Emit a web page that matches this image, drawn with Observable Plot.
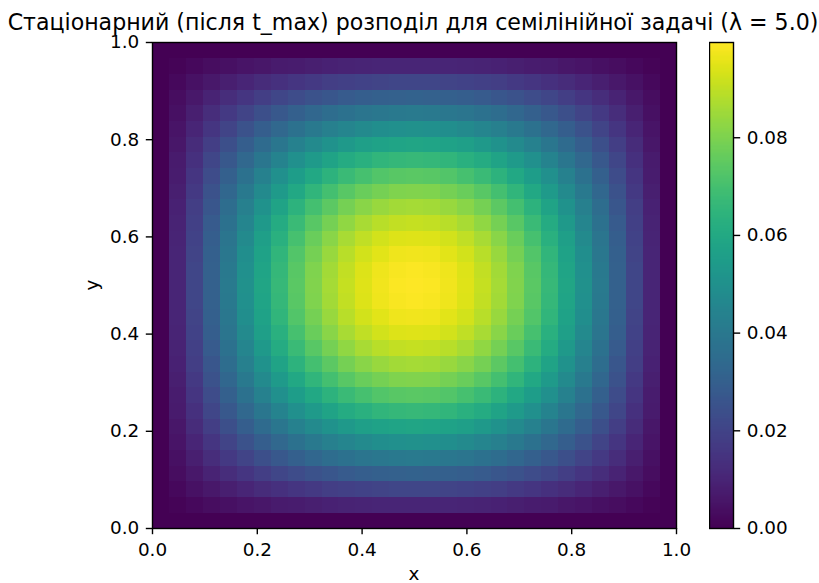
<!DOCTYPE html>
<html><head><meta charset="utf-8">
<script src="https://cdn.jsdelivr.net/npm/d3@7"></script>
<script src="https://cdn.jsdelivr.net/npm/@observablehq/plot@0.6"></script>
<style>body{margin:0;background:#fff} #chart{width:819px;height:583px}</style>
</head><body><div id="chart"></div>
<script>
// grid values in units of 1e-4 (31 x 31 cells)
const gridRows = [
[0,0,0,0,0,0,0,0,0,0,0,0,0,0,0,0,0,0,0,0,0,0,0,0,0,0,0,0,0,0,0],
[0,11,22,32,42,52,61,70,77,84,90,95,99,102,103,104,103,102,99,95,90,84,77,70,61,52,42,32,22,11,0],
[0,22,43,64,84,103,122,138,154,167,179,189,197,202,206,207,206,202,197,189,179,167,154,138,122,103,84,64,43,22,0],
[0,32,64,95,125,154,181,206,229,249,266,281,292,301,306,308,306,301,292,281,266,249,229,206,181,154,125,95,64,32,0],
[0,42,84,125,165,202,238,271,301,327,350,370,385,396,402,405,402,396,385,370,350,327,301,271,238,202,165,125,84,42,0],
[0,52,103,154,202,249,292,333,370,402,431,454,473,487,495,498,495,487,473,454,431,402,370,333,292,249,202,154,103,52,0],
[0,61,122,181,238,292,344,391,435,473,507,534,556,572,582,585,582,572,556,534,507,473,435,391,344,292,238,181,122,61,0],
[0,70,138,206,271,333,391,445,495,539,577,608,633,651,662,666,662,651,633,608,577,539,495,445,391,333,271,206,138,70,0],
[0,77,154,228,301,370,435,495,549,598,640,675,703,723,735,739,735,723,703,675,640,598,549,495,435,370,301,228,154,77,0],
[0,84,167,249,327,402,473,539,598,651,697,735,766,787,801,805,801,787,766,735,697,651,598,539,473,402,327,249,167,84,0],
[0,90,179,266,350,431,507,577,640,697,746,787,820,843,857,862,857,843,820,787,746,697,640,577,507,431,350,266,179,90,0],
[0,95,189,281,370,454,534,608,675,735,787,830,864,889,904,909,904,889,864,830,787,735,675,608,534,454,370,281,189,95,0],
[0,99,197,292,385,473,556,633,703,766,820,864,900,926,941,946,941,926,900,864,820,766,703,633,556,473,385,292,197,99,0],
[0,102,202,301,396,487,572,651,723,787,843,889,926,952,968,973,968,952,926,889,843,787,723,651,572,487,396,301,202,102,0],
[0,103,206,306,402,495,582,662,735,801,857,904,941,968,984,990,984,968,941,904,857,801,735,662,582,495,402,306,206,103,0],
[0,104,207,307,405,498,585,666,739,805,862,909,946,973,990,995,990,973,946,909,862,805,739,666,585,498,405,307,207,104,0],
[0,103,206,306,402,495,582,662,735,801,857,904,941,968,984,990,984,968,941,904,857,801,735,662,582,495,402,306,206,103,0],
[0,102,202,301,396,487,572,651,723,787,843,889,926,952,968,973,968,952,926,889,843,787,723,651,572,487,396,301,202,102,0],
[0,99,197,292,385,473,556,633,703,766,820,864,900,926,941,946,941,926,900,864,820,766,703,633,556,473,385,292,197,99,0],
[0,95,189,281,370,454,534,608,675,735,787,830,864,889,904,909,904,889,864,830,787,735,675,608,534,454,370,281,189,95,0],
[0,90,179,266,350,431,507,577,640,697,746,787,820,843,857,862,857,843,820,787,746,697,640,577,507,431,350,266,179,90,0],
[0,84,167,249,327,402,473,539,598,651,697,735,766,787,801,805,801,787,766,735,697,651,598,539,473,402,327,249,167,84,0],
[0,77,154,228,301,370,435,495,549,598,640,675,703,723,735,739,735,723,703,675,640,598,549,495,435,370,301,228,154,77,0],
[0,70,138,206,271,333,391,445,495,539,577,608,633,651,662,666,662,651,633,608,577,539,495,445,391,333,271,206,138,70,0],
[0,61,122,181,238,292,344,391,435,473,507,534,556,572,582,585,582,572,556,534,507,473,435,391,344,292,238,181,122,61,0],
[0,52,103,154,202,249,292,333,370,402,431,454,473,487,495,498,495,487,473,454,431,402,370,333,292,249,202,154,103,52,0],
[0,42,84,125,165,202,238,271,301,327,350,370,385,396,402,405,402,396,385,370,350,327,301,271,238,202,165,125,84,42,0],
[0,32,64,95,125,154,181,206,229,249,266,281,292,301,306,308,306,301,292,281,266,249,229,206,181,154,125,95,64,32,0],
[0,22,43,64,84,103,122,138,154,167,179,189,197,202,206,207,206,202,197,189,179,167,154,138,122,103,84,64,43,22,0],
[0,11,22,32,42,52,61,70,77,84,90,95,99,102,103,104,103,102,99,95,90,84,77,70,61,52,42,32,22,11,0],
[0,0,0,0,0,0,0,0,0,0,0,0,0,0,0,0,0,0,0,0,0,0,0,0,0,0,0,0,0,0,0]
];
const xTicks = [0, 0.2, 0.4, 0.6, 0.8, 1.0];
const yTicks = [0, 0.2, 0.4, 0.6, 0.8, 1.0];
const cbarTicks = [0, 0.02, 0.04, 0.06, 0.08];
const titleText = "Стаціонарний (після t_max) розподіл для семілінійної задачі (λ = 5.0)";
const xLabel = "x";
const yLabel = "y";

const values = gridRows.flat().map(v => v / 10000);
const nCols = gridRows[0].length;
const nRows = gridRows.length;
const vmax = d3.max(values);
const font = "'DejaVu Sans', sans-serif";
const tickFont = 18.4;

const main = Plot.plot({
  width: 819, height: 583,
  marginLeft: 152, marginRight: 143, marginTop: 42, marginBottom: 55,
  style: {fontFamily: font, fontSize: tickFont + "px", color: "black", background: "white"},
  x: {domain: [0, 1]},
  y: {domain: [0, 1]},
  color: {type: "linear", scheme: "viridis", domain: [0, vmax]},
  marks: [
    Plot.raster(values, {width: nCols, height: nRows, x1: 0, x2: 1, y1: 0, y2: 1, fill: d => d, imageRendering: "pixelated"}),
    Plot.frame({stroke: "black", strokeWidth: 1.4}),
    Plot.axisX({ticks: xTicks, tickFormat: ".1f", tickSize: 6.2, tickPadding: 8.5, label: null, strokeWidth: 1.4}),
    Plot.axisY({ticks: yTicks, tickFormat: ".1f", tickSize: 6.2, tickPadding: 7, label: null, strokeWidth: 1.4})
  ]
});

const cbar = Plot.plot({
  width: 110, height: 583,
  marginLeft: 0, marginRight: 86, marginTop: 42, marginBottom: 55,
  style: {fontFamily: font, fontSize: tickFont + "px", color: "black", background: "transparent"},
  x: {domain: [0, 1], axis: null},
  y: {domain: [0, vmax]},
  color: {type: "linear", scheme: "viridis", domain: [0, vmax]},
  marks: [
    Plot.raster({x1: 0, x2: 1, y1: 0, y2: vmax, width: 1, height: 300, fill: (x, y) => y}),
    Plot.frame({stroke: "black", strokeWidth: 1.4}),
    Plot.axisY({anchor: "right", ticks: cbarTicks, tickFormat: ".2f", tickSize: 6.2, tickPadding: 7, label: null, strokeWidth: 1.4})
  ]
});
cbar.setAttribute("x", 709);
cbar.setAttribute("y", 0);
main.appendChild(cbar);

const svg = d3.select(main);
svg.append("text").attr("x", 413).attr("y", 30).attr("text-anchor", "middle")
  .attr("font-family", font).attr("font-size", 22.1).attr("fill", "black").text(titleText);
svg.append("text").attr("x", 414).attr("y", 580).attr("text-anchor", "middle")
  .attr("font-family", font).attr("font-size", tickFont).attr("fill", "black").text(xLabel);
svg.append("text").attr("transform", "translate(98,285) rotate(-90)").attr("text-anchor", "middle")
  .attr("font-family", font).attr("font-size", tickFont).attr("fill", "black").text(yLabel);

document.getElementById("chart").appendChild(main);
</script>
</body></html>
